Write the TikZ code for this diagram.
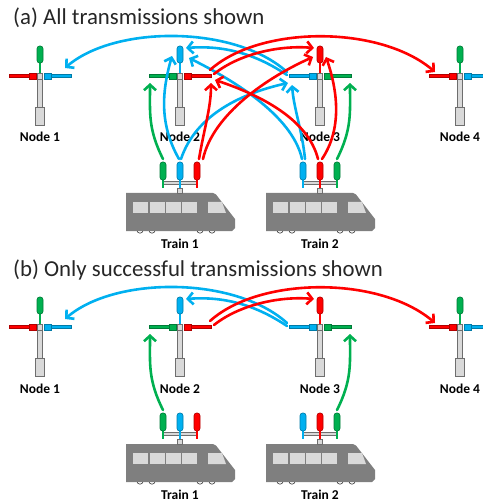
\documentclass[tikz,border=0pt]{standalone}
\usepackage{fontspec}
\setmainfont{Carlito}
\usetikzlibrary{arrows.meta}

\definecolor{sigblue}{RGB}{0,176,240}
\definecolor{sigred}{RGB}{255,0,0}
\definecolor{siggreen}{RGB}{0,176,80}
\definecolor{bodygray}{RGB}{127,127,127}
\definecolor{winlight}{RGB}{217,217,217}
\definecolor{polefill}{RGB}{217,217,217}
\definecolor{poleline}{RGB}{110,110,110}
\definecolor{titlegray}{RGB}{38,38,38}

\tikzset{
  link/.style={line width=2.6pt, line cap=round,
    -{Straight Barb[length=5.5pt,width=12pt]}},
  antennabox/.style={fill=#1, draw=#1!70!black, line width=0.6pt, rounded corners=2.6pt},
  sigbar/.style={fill=#1, draw=#1!70!black, line width=0.6pt},
  polepart/.style={fill=polefill, draw=poleline, line width=0.7pt},
  wheel/.style={fill=white, draw=black!80, line width=0.6pt},
  nodelabel/.style={font=\fontsize{13.5}{15}\selectfont\bfseries, anchor=base, inner sep=0pt},
  paneltitle/.style={font=\fontsize{22.8}{26}\selectfont, text=titlegray, anchor=base west, inner sep=0pt}
}

% roadside unit: #1 name, (#2,#3) crossbar centre, #4 top antenna,
% #5 left arm, #6 right arm, #7 caption
\newcommand\basestation[7]{%
  \begin{scope}[shift={(#2,#3)}]
    \draw[polepart] (-2.3,0) rectangle (2.3,31);
    \draw[polepart] (-4.5,31) rectangle (4.5,49);
    \fill[#4] (-1,-14) rectangle (1,-2);
    \draw[antennabox=#4] (-3,-30) rectangle (3,-13);
    \draw[sigbar=#5] (-31,-1.6) rectangle (-11,1.6);
    \draw[sigbar=#5] (-11,-3) rectangle (-4,3);
    \draw[sigbar=#6] (11,-1.6) rectangle (31,1.6);
    \draw[sigbar=#6] (4,-3) rectangle (11,3);
    \draw[polepart] (-2.3,-3) rectangle (2.3,3);
    \coordinate (#1) at (0,0);
    \node[nodelabel] (#1-label) at (0,66) {#7};
  \end{scope}}

% tram with three roof antennas: #1 name, (#2,#3) roof centre,
% #4 #5 #6 antenna colours left to right, #7 caption
\newcommand\trainunit[7]{%
  \begin{scope}[shift={(#2,#3)}]
    \foreach \wx in {-40,-28,20,32} {\draw[wheel] (\wx,37) circle[radius=3.2pt];}
    \fill[bodygray] (-54,0) -- (33,0) -- (36,1.5) -- (55,26) -- (55,35) -- (52,38) -- (-54,38) -- cycle;
    \foreach \wx in {-47,-30.5,-14,2} {\fill[winlight] (\wx,9) rectangle ++(15,11);}
    \fill[winlight] (28,9) -- (42,9) -- (46,20) -- (28,20) -- cycle;
    \draw[polepart] (-17,-11.2) rectangle (17,-8.6);
    \draw[polepart] (-2.2,-5) rectangle (2.2,0);
    \fill[#4] (-18,-14) rectangle (-16,-5);
    \fill[#5] (-1,-14) rectangle (1,-5);
    \fill[#6] (16,-14) rectangle (18,-5);
    \draw[antennabox=#4] (-20,-31) rectangle (-14,-13);
    \draw[antennabox=#5] (-3,-31) rectangle (3,-13);
    \draw[antennabox=#6] (14,-31) rectangle (20,-13);
    \coordinate (#1) at (0,0);
    \node[nodelabel] (#1-label) at (0,55) {#7};
  \end{scope}}

\begin{document}
\begin{tikzpicture}[x=1pt,y=-1pt]
  \useasboundingbox (0,0) rectangle (482,502);

  % ---------- (a) all transmissions ----------
  \node[paneltitle] (titlea) at (13,25) {(a) All transmissions shown};
  \basestation{n1a}{40}{76}{siggreen}{sigred}{sigblue}{Node 1}
  \basestation{n2a}{180}{76}{sigblue}{siggreen}{sigred}{Node 2}
  \basestation{n3a}{320}{76}{sigred}{sigblue}{siggreen}{Node 3}
  \basestation{n4a}{460}{76}{siggreen}{sigred}{sigblue}{Node 4}
  \trainunit{t1a}{180}{193}{siggreen}{sigblue}{sigred}{Train 1}
  \trainunit{t2a}{320}{193}{sigblue}{sigred}{siggreen}{Train 2}

  % blue channel
  \draw[link, sigblue] ([shift={(-33,-4)}]n3a) .. controls +(-52,-47) and +(50,-43) .. ([shift={(25,-8)}]n1a);
  \draw[link, sigblue] ([shift={(-33,-1)}]n3a) .. controls +(-30,-20) and +(40,-3) .. ([shift={(6,-28)}]n2a);
  \draw[link, sigblue] ([shift={(-1,-34)}]t1a) .. controls +(-20,-35) and +(-10,35) .. ([shift={(-8,-20)}]n2a);
  \draw[link, sigblue] ([shift={(1,-34)}]t1a) .. controls +(15,-45) and +(-45,10) .. ([shift={(-32,7)}]n3a);
  \draw[link, sigblue] ([shift={(-18,-34)}]t2a) .. controls +(-10,-45) and +(40,20) .. ([shift={(9,-18)}]n2a);
  \draw[link, sigblue] ([shift={(-15,-34)}]t2a) .. controls +(-3,-30) and +(2,25) .. ([shift={(-28,9)}]n3a);

  % red channel
  \draw[link, sigred] ([shift={(30,-6)}]n2a) .. controls +(50,-45) and +(-55,-47) .. ([shift={(-25,-4)}]n4a);
  \draw[link, sigred] ([shift={(34,-2)}]n2a) .. controls +(25,-20) and +(-35,-3) .. ([shift={(-6,-28)}]n3a);
  \draw[link, sigred] ([shift={(19,-34)}]t1a) .. controls +(5,-30) and +(0,25) .. ([shift={(31,7)}]n2a);
  \draw[link, sigred] ([shift={(23,-34)}]t1a) .. controls +(10,-45) and +(-45,20) .. ([shift={(-7,-19)}]n3a);
  \draw[link, sigred] ([shift={(-2,-34)}]t2a) .. controls +(-10,-40) and +(45,15) .. ([shift={(35,4)}]n2a);
  \draw[link, sigred] ([shift={(2,-34)}]t2a) .. controls +(20,-30) and +(12,35) .. ([shift={(6,-19)}]n3a);

  % green channel
  \draw[link, siggreen] ([shift={(-17,-34)}]t1a) .. controls +(-15,-30) and +(0,30) .. ([shift={(-30,7)}]n2a);
  \draw[link, siggreen] ([shift={(17,-34)}]t2a) .. controls +(15,-30) and +(0,30) .. ([shift={(30,7)}]n3a);

  % ---------- (b) successful transmissions ----------
  \node[paneltitle] (titleb) at (13,276) {(b) Only successful transmissions shown};
  \basestation{n1b}{40}{327}{siggreen}{sigred}{sigblue}{Node 1}
  \basestation{n2b}{180}{327}{sigblue}{siggreen}{sigred}{Node 2}
  \basestation{n3b}{320}{327}{sigred}{sigblue}{siggreen}{Node 3}
  \basestation{n4b}{460}{327}{siggreen}{sigred}{sigblue}{Node 4}
  \trainunit{t1b}{180}{444}{siggreen}{sigblue}{sigred}{Train 1}
  \trainunit{t2b}{320}{444}{sigblue}{sigred}{siggreen}{Train 2}

  \draw[link, sigblue] ([shift={(-33,-4)}]n3b) .. controls +(-52,-47) and +(50,-43) .. ([shift={(25,-8)}]n1b);
  \draw[link, sigblue] ([shift={(-33,-1)}]n3b) .. controls +(-30,-20) and +(40,-3) .. ([shift={(6,-28)}]n2b);
  \draw[link, sigred] ([shift={(30,-6)}]n2b) .. controls +(50,-45) and +(-55,-47) .. ([shift={(-25,-4)}]n4b);
  \draw[link, sigred] ([shift={(34,-2)}]n2b) .. controls +(25,-20) and +(-35,-3) .. ([shift={(-6,-28)}]n3b);
  \draw[link, siggreen] ([shift={(-17,-34)}]t1b) .. controls +(-15,-30) and +(0,30) .. ([shift={(-30,7)}]n2b);
  \draw[link, siggreen] ([shift={(17,-34)}]t2b) .. controls +(15,-30) and +(0,30) .. ([shift={(30,7)}]n3b);
\end{tikzpicture}
\end{document}
